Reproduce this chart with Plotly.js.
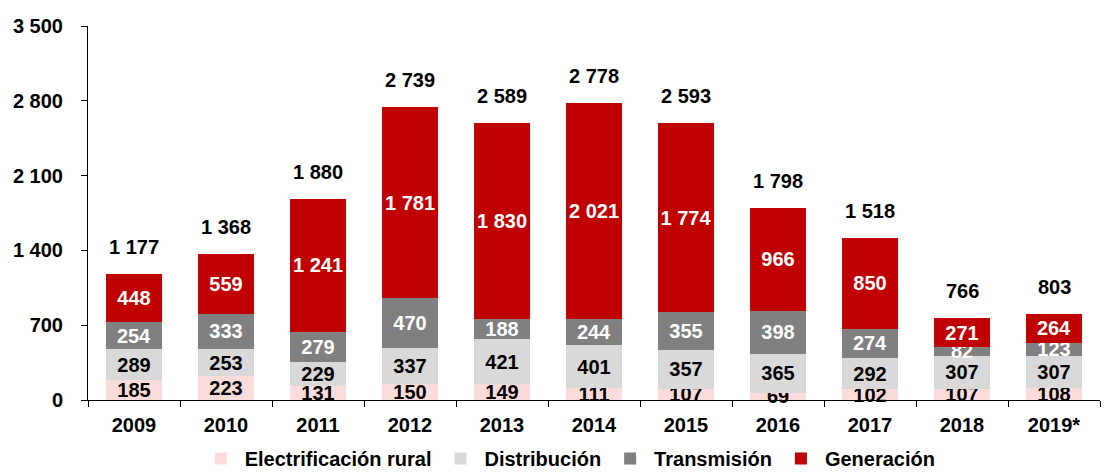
<!DOCTYPE html>
<html><head><meta charset="utf-8">
<script src="https://cdn.plot.ly/plotly-3.0.1.min.js"></script>
<style>html,body{margin:0;padding:0;background:#fff}</style>
</head><body>
<div id="chart" style="width:1104px;height:473px"></div>
<script>
const years = ['2009','2010','2011','2012','2013','2014','2015','2016','2017','2018','2019*'];
const rural = [185,223,131,150,149,111,107,69,102,107,108];
const distribucion = [289,253,229,337,421,401,357,365,292,307,307];
const transmision = [254,333,279,470,188,244,355,398,274,82,123];
const generacion = [448,559,1241,1781,1830,2021,1774,966,850,271,264];
const totals = [1177,1368,1880,2739,2589,2778,2593,1798,1518,766,803];

const F = 'Liberation Sans, Arial, sans-serif';
const FS = 20;
function fmt(v){return String(v).replace(/\B(?=(\d{3})+(?!\d))/g,' ');}
function mk(name, vals, color, txtColor){
  return {type:'bar', name:name, x:years, y:vals, marker:{color:color},
    text:vals.map(fmt), textposition:'inside', insidetextanchor:'middle', textangle:0,
    constraintext:'none', cliponaxis:false,
    textfont:{family:F, size:FS, color:txtColor, weight:'bold'},
    hoverinfo:'x+y'};
}
const data = [
  mk('Electrificación rural', rural, '#FCDCDA', '#000'),
  mk('Distribución', distribucion, '#D9D9D9', '#000'),
  mk('Transmisión', transmision, '#808080', '#fff'),
  mk('Generación', generacion, '#C00000', '#fff')
];
const annotations = years.map((y,i)=>({x:i, y:totals[i], xref:'x', yref:'y', text:fmt(totals[i]),
  showarrow:false, yanchor:'bottom', yshift:14, font:{family:F, size:FS, color:'#000', weight:'bold'}}));
const layout = {
  width:1104, height:473, barmode:'stack', bargap:0.4,
  margin:{l:88, r:4, t:26, b:73, autoexpand:false},
  separators:', ',
  paper_bgcolor:'#fff', plot_bgcolor:'#fff',
  font:{family:F, size:FS, color:'#000', weight:'bold'},
  xaxis:{type:'category', showline:true, linecolor:'#000', linewidth:1, ticks:'outside', tickson:'boundaries',
    ticklen:6, tickcolor:'#000', showgrid:false, tickangle:0, automargin:false, ticklabelstandoff:7,
    tickfont:{family:F, size:FS, weight:'bold'}},
  yaxis:{range:[0,3500], dtick:700, tick0:0, showline:true, linecolor:'#000', linewidth:1, ticks:'outside',
    ticklen:6, tickcolor:'#000', showgrid:false, zeroline:false, tickformat:',d', ticklabelstandoff:14, automargin:false,
    tickfont:{family:F, size:FS, weight:'bold'}},
  showlegend:true,
  legend:{orientation:'h', x:0.475, xanchor:'center', yref:'container', y:0.072, yanchor:'top', traceorder:'normal',
    font:{family:F, size:FS, weight:'bold'}, itemwidth:38},
  annotations:annotations
};
Plotly.newPlot('chart', data, layout, {displayModeBar:false, staticPlot:true});
</script>
</body></html>
